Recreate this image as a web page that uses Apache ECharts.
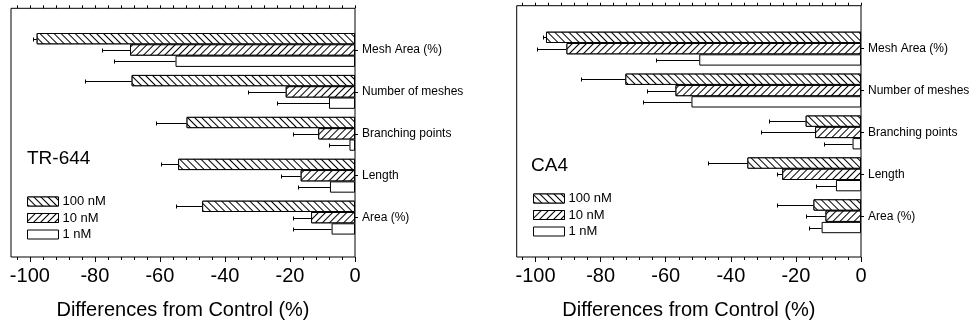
<!DOCTYPE html>
<html><head><meta charset="utf-8">
<script src="https://cdn.jsdelivr.net/npm/echarts@6/dist/echarts.min.js"></script>
<style>html,body{margin:0;padding:0;background:#fff}#c{width:973px;height:325px}</style>
</head><body><div id="c"></div>
<script>
// ---------- data ----------
const categories = ['Mesh Area (%)', 'Number of meshes', 'Branching points', 'Length', 'Area (%)'];
const seriesNames = ['100 nM', '10 nM', '1 nM'];
const panelLabels = ['TR-644', 'CA4'];
const axisTitle = 'Differences from Control (%)';
const majorTicks = [-100, -80, -60, -40, -20, 0];
const minorTicks = [-104, -96, -92, -88, -84, -76, -72, -68, -64, -56, -52, -48, -44, -36, -32, -28, -24, -16, -12, -8, -4];

// TR-644
const tr100 = [-97.9, -68.7, -51.8, -54.4, -47.0];
const tr100Err = [1.0, 14.4, 9.4, 5.3, 8.2];
const tr10 = [-69.2, -21.3, -11.3, -16.7, -13.5];
const tr10Err = [8.7, 11.5, 7.7, 6.1, 5.7];
const tr1 = [-55.2, -8.0, -1.7, -7.7, -7.2];
const tr1Err = [18.9, 16.1, 6.2, 9.9, 12.0];
// CA4
const ca100 = [-96.8, -72.4, -17.0, -34.9, -14.6];
const ca100Err = [0.8, 13.5, 11.2, 12.0, 11.3];
const ca10 = [-90.5, -57.0, -14.1, -24.2, -10.9];
const ca10Err = [9.2, 8.9, 16.6, 1.7, 6.0];
const ca1 = [-49.7, -52.1, -2.6, -7.7, -12.1];
const ca1Err = [13.4, 15.0, 8.8, 6.1, 3.9];

// ---------- styling ----------
const FONT = 'Liberation Sans, Arial, Helvetica, sans-serif';
const XMIN = -105.8, XMAX = 0;
const BAR_W = 11.3;
const decals = [
  {symbol: 'rect', symbolSize: 1, dashArrayX: [1, 0], dashArrayY: [1, 4], rotation: Math.PI / 4, color: '#000', backgroundColor: '#fff'},
  {symbol: 'rect', symbolSize: 1, dashArrayX: [1, 0], dashArrayY: [1, 4], rotation: -Math.PI / 4, color: '#000', backgroundColor: '#fff'},
  null
];

const panels = [
  {vals: [tr100, tr10, tr1], errs: [tr100Err, tr10Err, tr1Err],
   frame: {left: 11, top: 8.3, width: 344, height: 249.7},
   bars: {left: 11, top: 29, width: 344, height: 209.6},
   title: {left: 27, top: 149}, legend: {left: 27, top: 195}},
  {vals: [ca100, ca10, ca1], errs: [ca100Err, ca10Err, ca1Err],
   frame: {left: 516.7, top: 5.7, width: 344.3, height: 252.6},
   bars: {left: 516.7, top: 27.7, width: 344.3, height: 209.5},
   title: {left: 531, top: 156}, legend: {left: 533, top: 192}}
];

const grid = [], xAxis = [], yAxis = [], series = [], title = [], legend = [];
panels.forEach((p, pi) => {
  const gF = grid.length;
  grid.push(Object.assign({show: true, borderColor: '#000', borderWidth: 1, containLabel: false}, p.frame));
  const gB = grid.length;
  grid.push(Object.assign({containLabel: false}, p.bars));

  xAxis.push({gridIndex: gF, type: 'value', position: 'bottom', min: XMIN, max: XMAX,
    axisLine: {show: false}, splitLine: {show: false},
    axisTick: {show: true, customValues: majorTicks, length: 5, inside: false, lineStyle: {color: '#000'}},
    axisLabel: {show: true, customValues: majorTicks, fontSize: 20, color: '#000', fontFamily: FONT, margin: 9},
    name: axisTitle, nameLocation: 'middle', nameGap: 43,
    nameTextStyle: {fontSize: 20, color: '#000', fontFamily: FONT}});
  xAxis.push({gridIndex: gF, type: 'value', position: 'bottom', min: XMIN, max: XMAX,
    axisLine: {show: false}, splitLine: {show: false},
    axisTick: {show: true, customValues: minorTicks, length: 3, lineStyle: {color: '#000'}},
    axisLabel: {show: false}});
  xAxis.push({gridIndex: gF, type: 'value', position: 'top', min: XMIN, max: XMAX,
    axisLine: {show: false}, splitLine: {show: false},
    axisTick: {show: true, customValues: majorTicks.concat(minorTicks), length: 3, lineStyle: {color: '#000'}},
    axisLabel: {show: false}});
  yAxis.push({gridIndex: gF, type: 'value', show: false, min: 0, max: 1});

  const xB = xAxis.length;
  xAxis.push({gridIndex: gB, type: 'value', show: false, min: XMIN, max: XMAX, splitLine: {show: false}});
  const yB = yAxis.length;
  yAxis.push({gridIndex: gB, type: 'category', data: categories, inverse: true, position: 'right',
    axisLine: {show: false},
    axisTick: {show: true, alignWithLabel: true, length: 3, lineStyle: {color: '#000'}},
    axisLabel: {fontSize: 12, color: '#000', fontFamily: FONT, margin: 7},
    splitLine: {show: false}});

  seriesNames.forEach((name, k) => {
    const itemStyle = {color: '#fff', borderColor: '#000', borderWidth: 1};
    if (decals[k]) itemStyle.decal = decals[k];
    series.push({type: 'bar', name: name, xAxisIndex: xB, yAxisIndex: yB,
      data: p.vals[k], barWidth: BAR_W, barGap: '0%', silent: true, itemStyle: itemStyle});
  });

  const errData = [];
  seriesNames.forEach((name, k) => {
    p.vals[k].forEach((v, c) => errData.push([v, p.errs[k][c], c, k]));
  });
  series.push({type: 'custom', xAxisIndex: xB, yAxisIndex: yB, data: errData, silent: true, z: 5,
    encode: {x: 0, y: 2},
    renderItem: function (params, api) {
      const v = api.value(0), e = api.value(1), c = api.value(2), k = api.value(3);
      const p0 = api.coord([v, c]);
      const p1 = api.coord([v - e, c]);
      const y = Math.round(p0[1] + (k - 1) * BAR_W) + 0.5;
      const xe = Math.round(p1[0]) + 0.5;
      return {type: 'group', children: [
        {type: 'line', shape: {x1: p0[0], y1: y, x2: xe, y2: y}, style: {stroke: '#000', lineWidth: 1}},
        {type: 'line', shape: {x1: xe, y1: y - 2, x2: xe, y2: y + 2}, style: {stroke: '#000', lineWidth: 1}}
      ]};
    }});

  title.push({text: panelLabels[pi], left: p.title.left, top: p.title.top, padding: 0,
    textStyle: {fontSize: 19, fontWeight: 'normal', color: '#000', fontFamily: FONT}});
  legend.push({data: seriesNames, orient: 'vertical', left: p.legend.left, top: p.legend.top, padding: 0,
    itemWidth: 31, itemHeight: 9, itemGap: 3.5, icon: 'rect', selectedMode: false,
    itemStyle: {borderColor: '#000', borderWidth: 1},
    textStyle: {fontSize: 13, color: '#000', fontFamily: FONT, padding: [0, 0, 0, -1]}});
});

const chart = echarts.init(document.getElementById('c'), null, {renderer: 'canvas'});
chart.setOption({animation: false, backgroundColor: '#fff', title, legend, grid, xAxis, yAxis, series});
</script></body></html>
